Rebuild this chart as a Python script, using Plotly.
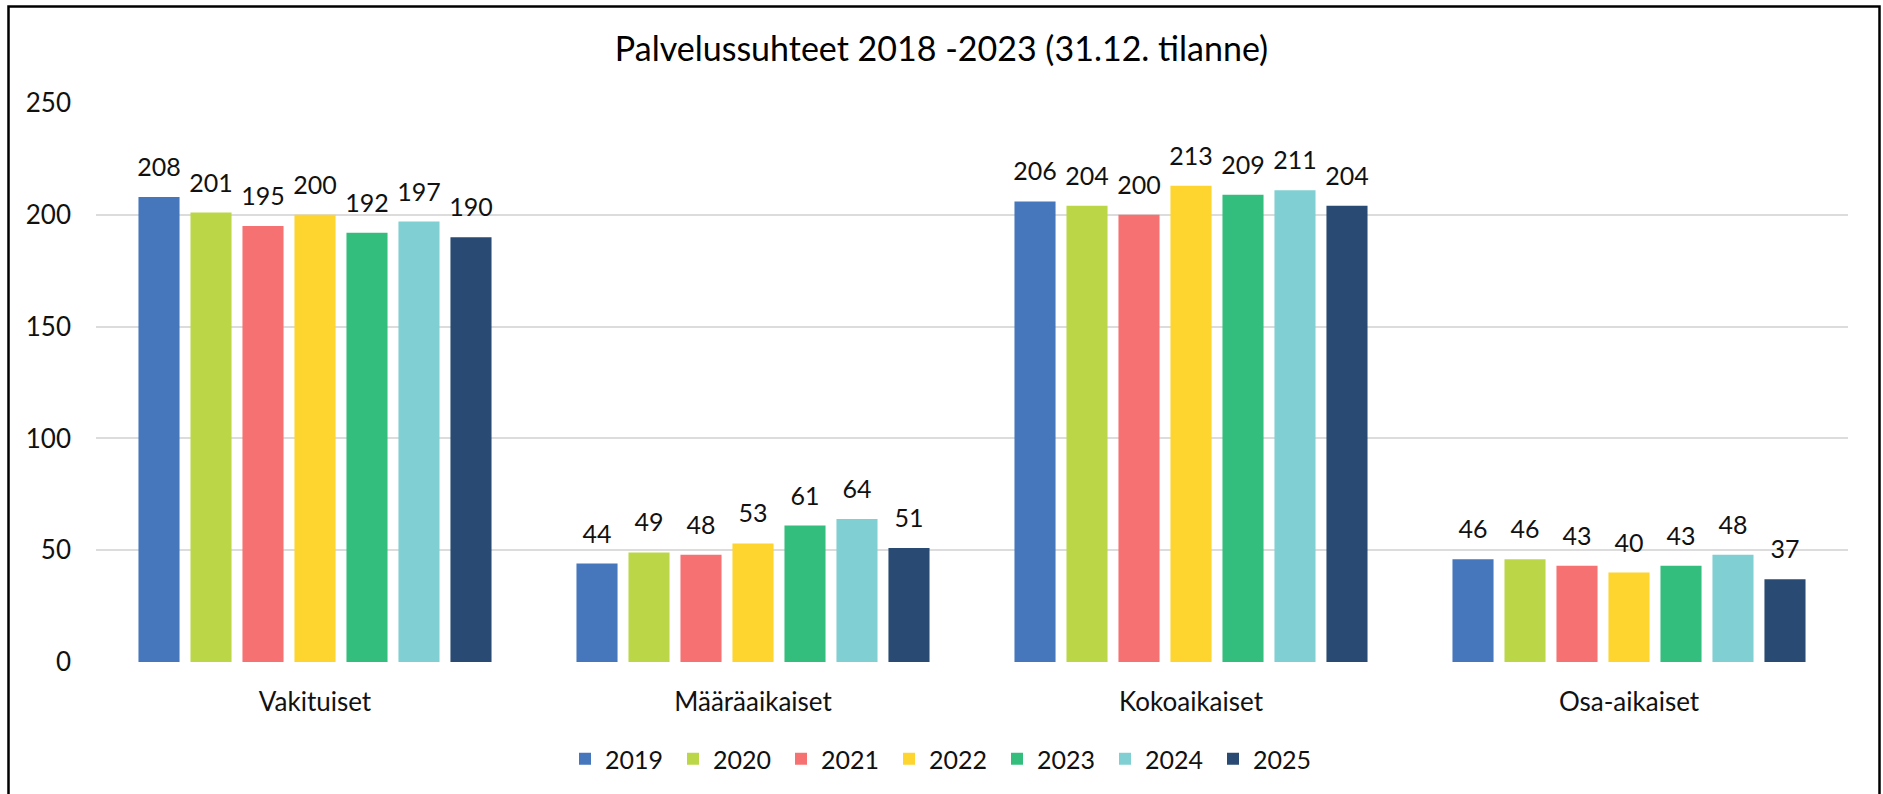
import plotly.graph_objects as go

categories = ["Vakituiset", "Määräaikaiset", "Kokoaikaiset", "Osa-aikaiset"]
years = ["2019", "2020", "2021", "2022", "2023", "2024", "2025"]
v2019 = [208, 44, 206, 46]
v2020 = [201, 49, 204, 46]
v2021 = [195, 48, 200, 43]
v2022 = [200, 53, 213, 40]
v2023 = [192, 61, 209, 43]
v2024 = [197, 64, 211, 48]
v2025 = [190, 51, 204, 37]
series = [v2019, v2020, v2021, v2022, v2023, v2024, v2025]
colors = ["#4676BB", "#BBD748", "#F67272", "#FED42F", "#34BE7E", "#80D0D3", "#294A72"]
title_text = "Palvelussuhteet 2018 -2023 (31.12. tilanne)"
y_ticks = [0, 50, 100, 150, 200, 250]

FONT = "Lato, Calibri, Carlito, sans-serif"
TXT = "#111111"

W, H = 1883, 794
L, R, T, B = 96, 35, 103, 132
pw, ph = W - L - R, H - T - B
BARGAP = 0.169

fig = go.Figure()
for name, vals, col in zip(years, series, colors):
    fig.add_trace(go.Bar(
        x=categories, y=vals, name=name, marker=dict(color=col, line=dict(width=0)),
        hoverinfo="x+y+name",
    ))
for name, vals in zip(years, series):
    fig.add_trace(go.Scatter(
        x=categories, y=vals, mode="markers+text", text=[str(v) for v in vals],
        textposition="top center", textfont=dict(family=FONT, size=25, color=TXT),
        marker=dict(size=22, opacity=0), showlegend=False, hoverinfo="skip",
        cliponaxis=False,
    ))

def px_x(p):
    return (p - L) / pw

def px_y(p):
    return (H - B - p) / ph

fig.update_layout(
    width=W, height=H, autosize=False,
    margin=dict(l=L, r=R, t=T, b=B, pad=0),
    paper_bgcolor="white", plot_bgcolor="white",
    barmode="group", bargap=BARGAP, bargroupgap=0.21,
    scattermode="group", scattergap=BARGAP,
    font=dict(family=FONT, size=25, color=TXT),
    title=dict(text=title_text, x=0.5, xref="container", xanchor="center",
               y=1 - 49 / H, yref="container", yanchor="middle",
               font=dict(family=FONT, size=34, color="#000000")),
    xaxis=dict(type="category", showgrid=False, showline=False, zeroline=False,
               ticks="", tickfont=dict(family=FONT, size=26, color=TXT),
               ticklabelstandoff=22),
    yaxis=dict(range=[0, 250], tickvals=y_ticks, showgrid=True, gridcolor="#dcdcdc",
               gridwidth=2, zeroline=False, showline=False, ticks="",
               tickfont=dict(family=FONT, size=26, color=TXT), ticklabelstandoff=24),
    legend=dict(orientation="h", x=px_x(565), xanchor="left", y=px_y(759), yanchor="middle",
                font=dict(family=FONT, size=25, color=TXT), entrywidth=63,
                traceorder="normal", bgcolor="rgba(0,0,0,0)"),
    showlegend=True,
    shapes=[dict(type="rect", xref="paper", yref="paper",
                 x0=px_x(8.5), x1=px_x(1879.5), y0=px_y(830), y1=px_y(6.5),
                 line=dict(color="#000000", width=2.5), fillcolor="rgba(0,0,0,0)",
                 layer="above")],
)

fig.write_html("out.html", config={"displayModeBar": False},
               post_script="document.body.style.margin='0';document.body.style.overflow='hidden';")
